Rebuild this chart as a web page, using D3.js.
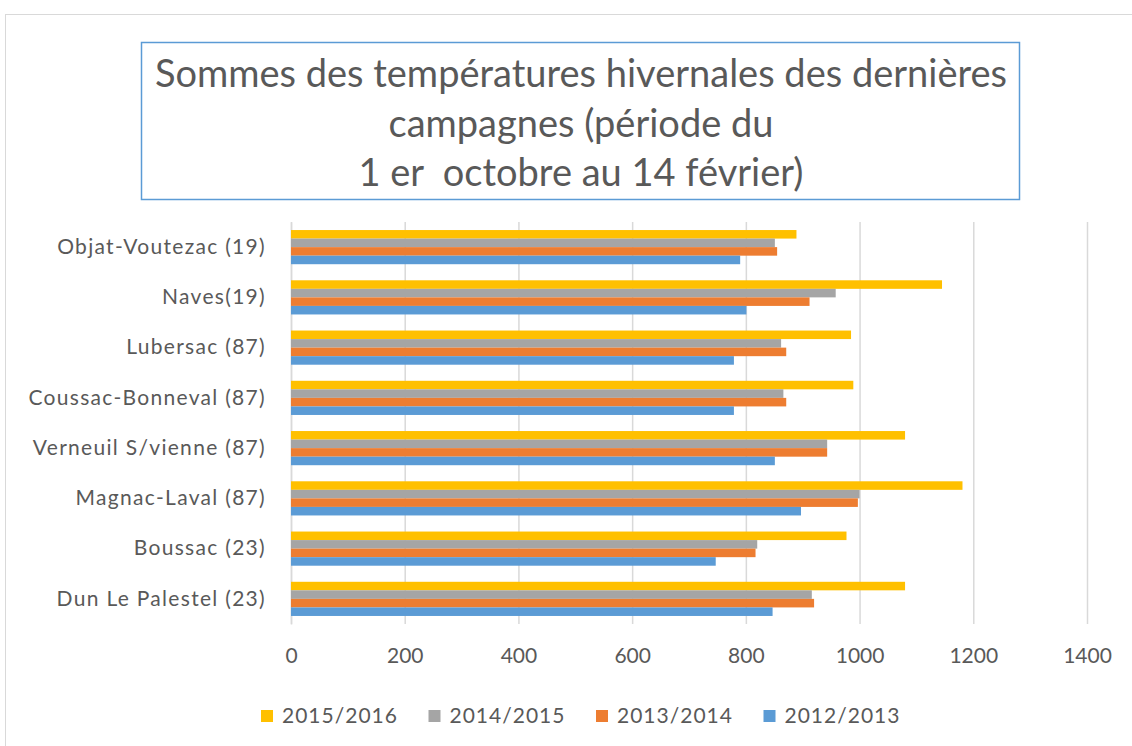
<!DOCTYPE html>
<html>
<head>
<meta charset="utf-8">
<script src="https://cdn.jsdelivr.net/npm/d3@7"></script>
<style>
  body { margin: 0; background: #fff; }
  text { font-family: Lato, "Open Sans", sans-serif; fill: #595959; }
</style>
</head>
<body>
<svg width="1132" height="746"></svg>
<script>
"use strict";

// stations, du haut vers le bas
const stations = [
  "Objat-Voutezac (19)",
  "Naves(19)",
  "Lubersac (87)",
  "Coussac-Bonneval (87)",
  "Verneuil S/vienne (87)",
  "Magnac-Laval (87)",
  "Boussac (23)",
  "Dun Le Palestel (23)"
];
const campagnes = ["2015/2016", "2014/2015", "2013/2014", "2012/2013"];
const couleurs = ["#FFC000", "#A5A5A5", "#ED7D31", "#5B9BD5"];

const v2015 = [889, 1145, 985, 989, 1080, 1181, 977, 1080];
const v2014 = [851, 958, 862, 866, 943, 1000, 820, 916];
const v2013 = [855, 912, 871, 871, 943, 997, 817, 920];
const v2012 = [790, 801, 779, 779, 851, 897, 747, 847];
const series = [v2015, v2014, v2013, v2012];

const xTicks = [0, 200, 400, 600, 800, 1000, 1200, 1400];
const titre = [
  "Sommes des températures hivernales des dernières",
  "campagnes (période du",
  "1 er  octobre au 14 février)"
];

const svg = d3.select("svg");

// cadre du graphique
svg.append("rect")
  .attr("x", 5.5).attr("y", 14.5)
  .attr("width", 1140).attr("height", 740)
  .attr("fill", "none").attr("stroke", "#D9D9D9");

// cadre du titre
svg.append("rect")
  .attr("x", 141.5).attr("y", 42.5)
  .attr("width", 878).attr("height", 157)
  .attr("fill", "none").attr("stroke", "#5B9BD5").attr("stroke-width", 1.5);

svg.append("g").selectAll("text")
  .data(titre)
  .enter()
  .append("text")
  .attr("x", 581)
  .attr("y", (d, i) => 87 + i * 49.5)
  .attr("text-anchor", "middle")
  .attr("font-size", 38)
  .style("white-space", "pre")
  .text(d => d);

const xScale = d3.scaleLinear().domain([0, 1400]).range([291, 1087]);
const yScale = d3.scaleBand().domain(stations).range([222, 624]).paddingInner(0.32).paddingOuter(0.16);
const yInner = d3.scaleBand().domain(campagnes).range([0, yScale.bandwidth()]);

// grille verticale
const xAxis = d3.axisBottom(xScale).tickValues(xTicks).tickFormat(d3.format("d"))
  .tickSize(-(624 - 222)).tickPadding(24);
const gx = svg.append("g").attr("transform", "translate(0,624)").call(xAxis);
gx.select(".domain").remove();
gx.selectAll(".tick line").attr("stroke", "#D9D9D9").attr("stroke-width", 1.5);
gx.selectAll(".tick text").attr("font-size", 21).style("font-family", "Lato, sans-serif").attr("fill", "#595959");

// axe vertical
const yAxis = d3.axisLeft(yScale).tickSize(0).tickPadding(25);
const gy = svg.append("g").attr("transform", "translate(291,0)").call(yAxis);
gy.select(".domain").attr("stroke", "#D9D9D9").attr("stroke-width", 1.5);
gy.selectAll(".tick text").attr("font-size", 21).attr("letter-spacing", 1.3)
  .style("font-family", "Lato, sans-serif").attr("fill", "#595959");

// barres
campagnes.forEach((c, k) => {
  svg.append("g")
    .selectAll("rect")
    .data(series[k])
    .enter()
    .append("rect")
    .attr("x", xScale(0))
    .attr("y", (d, i) => yScale(stations[i]) + yInner(c))
    .attr("width", d => xScale(d) - xScale(0))
    .attr("height", yInner.bandwidth())
    .attr("fill", couleurs[k]);
});

// légende
const leg = svg.append("g").selectAll("g")
  .data(campagnes)
  .enter()
  .append("g")
  .attr("transform", (d, i) => `translate(${261 + i * 167.5},716)`);
leg.append("rect")
  .attr("x", 0).attr("y", -6)
  .attr("width", 12).attr("height", 12)
  .attr("fill", (d, i) => couleurs[i]);
leg.append("text")
  .attr("x", 21).attr("y", 0)
  .attr("dy", "0.35em")
  .attr("font-size", 21)
  .attr("letter-spacing", 1)
  .text(d => d);
</script>
</body>
</html>
